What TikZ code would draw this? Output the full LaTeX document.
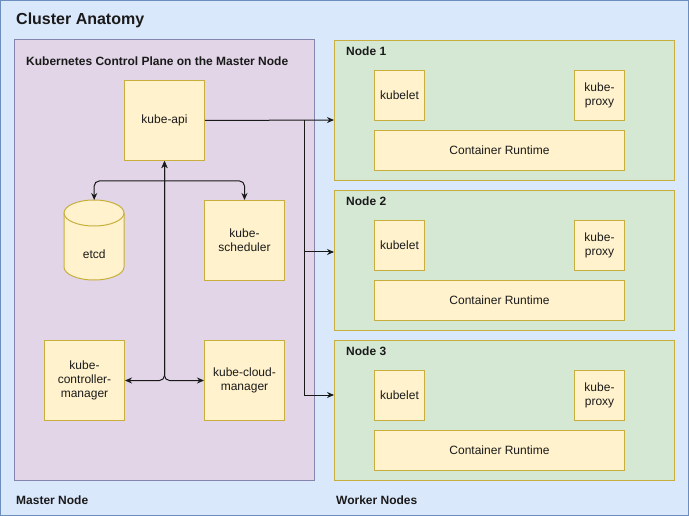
\documentclass[tikz,border=0pt]{standalone}
\usepackage{fontspec}
\setmainfont{Liberation Sans}
\usepackage{tikz}
\usetikzlibrary{arrows.meta, positioning, calc, backgrounds}
\definecolor{clusterblue}{HTML}{DAE8FC}
\definecolor{clusterline}{HTML}{6C8EBF}
\definecolor{masterpurple}{HTML}{E1D5E7}
\definecolor{masterline}{HTML}{8585AD}
\definecolor{workergreen}{HTML}{D5E8D4}
\definecolor{compyellow}{HTML}{FFF2CC}
\definecolor{compline}{HTML}{C8AE3C}
\definecolor{textdark}{HTML}{1A1A1A}

\begin{document}
\begin{tikzpicture}[
    x=1pt, y=-1pt,
    cluster/.style={rectangle, draw=clusterline, fill=clusterblue, line width=1pt},
    master/.style={rectangle, draw=masterline, fill=masterpurple, line width=1pt},
    worker/.style={rectangle, draw=compline, fill=workergreen, line width=1pt, minimum width=340pt, minimum height=140pt, anchor=north west, inner sep=0pt},
    comp/.style={rectangle, draw=compline, fill=compyellow, line width=1pt, anchor=north west, inner sep=0pt, align=center, font=\fontsize{12}{14}\selectfont, text=textdark},
    heading/.style={anchor=west, inner sep=0pt, font=\fontsize{12}{14}\selectfont\bfseries, text=textdark},
    arrow/.style={-{Stealth[length=7pt, width=6pt]}, line width=1pt, black!90},
    biarrow/.style={{Stealth[length=7pt, width=6pt]}-{Stealth[length=7pt, width=6pt]}, line width=1pt, black!90}
]
\useasboundingbox (0,0) rectangle (689,516);

% Cluster
\draw[cluster] (0.5,0.5) rectangle (688.5,515.5);
\node[anchor=west, inner sep=0pt, font=\fontsize{16}{19}\selectfont\bfseries, text=textdark] (title) at (16,20) {Cluster Anatomy};

% Master node
\draw[master] (14,40) rectangle (314,480);
\node[heading] (cplabel) at (26,61) {Kubernetes Control Plane on the Master Node};
\node[heading] (masterlabel) at (16,500) {Master Node};

% Control plane components
\node[comp, minimum width=80pt, minimum height=80pt] (api) at (124,80) {kube-api};
\node[comp, minimum width=80pt, minimum height=80pt] (sched) at (204,200) {kube-\\scheduler};
\node[comp, minimum width=80pt, minimum height=80pt] (ctrl) at (44,340) {kube-\\controller-\\manager};
\node[comp, minimum width=80pt, minimum height=80pt] (cloud) at (204,340) {kube-cloud-\\manager};

% etcd cylinder
\node[anchor=north west, inner sep=0pt, minimum width=60pt, minimum height=80pt] (etcd) at (64,200) {};
\draw[draw=compline, fill=compyellow, line width=1pt] (64,213) -- (64,267)
    arc[start angle=180, end angle=360, x radius=30pt, y radius=13pt] -- (124,213)
    arc[start angle=0, end angle=180, x radius=30pt, y radius=13pt] -- cycle;
\draw[draw=compline, line width=1pt] (64,213) arc[start angle=180, end angle=360, x radius=30pt, y radius=13pt];
\node[font=\fontsize{12}{14}\selectfont, text=textdark] (etcdlabel) at ([yshift=-14pt]etcd.center) {etcd};

% Control plane connections
\coordinate (hub) at ($(api.south)+(0,20)$);
\draw[arrow, rounded corners=5pt] (hub) -| (etcd.north);
\draw[arrow, rounded corners=5pt] (hub) -| (sched.north);
\draw[biarrow, rounded corners=5pt] (api.south) |- (ctrl.east);
\draw[biarrow, rounded corners=5pt] (api.south) |- (cloud.west);

% Worker nodes
\node[heading] (workerlabel) at (336,500) {Worker Nodes};
\foreach \i/\y/\in in {1/40/80, 2/190/62, 3/340/55} {
    \node[worker] (node\i) at (334,\y) {};
    \node[heading] (nodelabel\i) at (346,\y+11) {Node \i};
    \node[comp, minimum width=50pt, minimum height=50pt] (kubelet\i) at (374,\y+30) {kubelet};
    \node[comp, minimum width=50pt, minimum height=50pt] (proxy\i) at (574,\y+30) {kube-\\proxy};
    \node[comp, minimum width=250pt, minimum height=40pt] (runtime\i) at (374,\y+90) {Container Runtime};
    \coordinate (in\i) at (334,\y+\in);
}

% API to worker nodes
\coordinate (bus) at (304,120);
\draw[arrow] (api.east) -- (in1);
\draw[arrow] (bus) |- (in2);
\draw[arrow] (bus) |- (in3);

\end{tikzpicture}
\end{document}
